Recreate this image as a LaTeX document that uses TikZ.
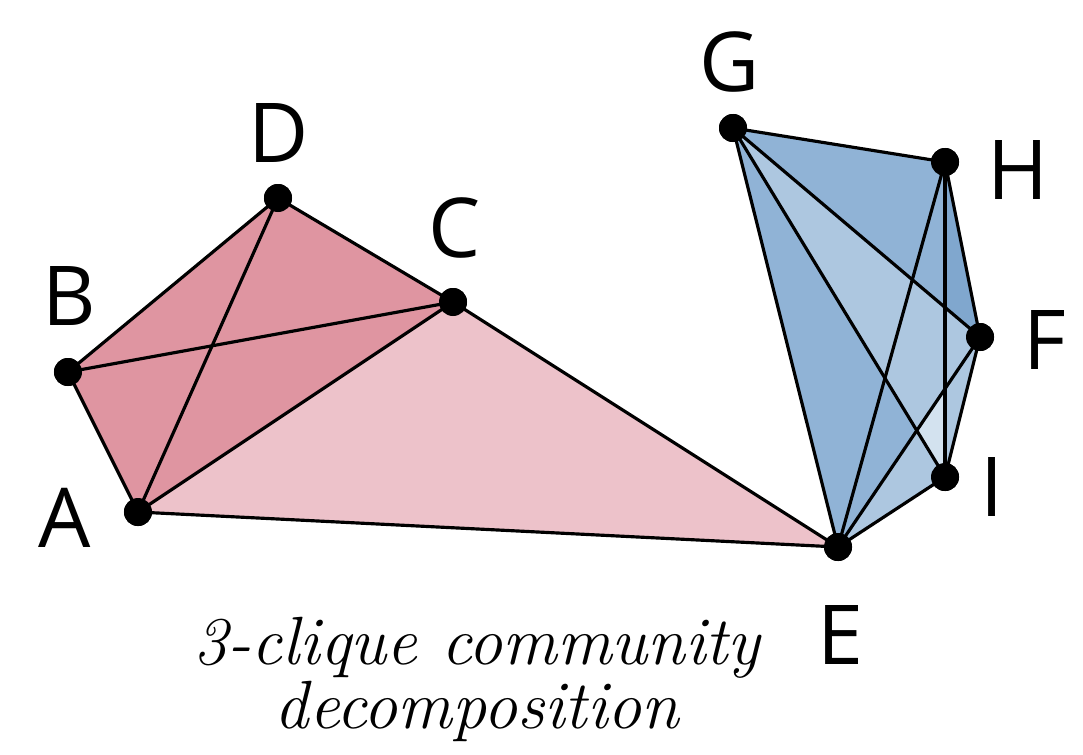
\documentclass[tikz,border=0pt]{standalone}
\usepackage{fontspec}
\newfontfamily\labelfont{Open Sans}
\definecolor{pinkdark}{HTML}{DF95A1}
\definecolor{pinklight}{HTML}{EDC2CA}
\definecolor{bluemid}{HTML}{90B3D6}
\definecolor{bluelight}{HTML}{ADC7E0}
\definecolor{bluepale}{HTML}{D3E2EF}
\definecolor{bluedeep}{HTML}{80A7CE}
\tikzset{
  vertex/.style={circle,fill=black,inner sep=0pt,minimum size=0.28cm},
  vlabel/.style={font=\labelfont\fontsize{23.5}{26}\selectfont,inner sep=0pt},
  edge/.style={line width=0.9pt,black}
}
\begin{document}
\begin{tikzpicture}[x=0.01cm,y=-0.01cm]
    \useasboundingbox (0,0) rectangle (1083,754);
    % vertices
    \node[vertex] (A) at (138,512) {};
    \node[vertex] (B) at (68,372) {};
    \node[vertex] (D) at (278,198) {};
    \node[vertex] (C) at (453,302) {};
    \node[vertex] (E) at (838,547) {};
    \node[vertex] (G) at (733,128) {};
    \node[vertex] (H) at (945,162) {};
    \node[vertex] (F) at (980,337) {};
    \node[vertex] (I) at (945,477) {};
    % communities
    \fill[pinklight] (A.center) -- (C.center) -- (E.center) -- cycle;
    \fill[pinkdark] (A.center) -- (B.center) -- (D.center) -- (C.center) -- cycle;
    \fill[bluemid] (G.center) -- (H.center) -- (F.center) -- (I.center) -- (E.center) -- cycle;
    \fill[bluedeep] (H.center) -- (F.center) -- (945,307) -- cycle;
    \fill[bluelight] (G.center) -- (F.center) -- (I.center) -- cycle;
    \fill[bluelight] (E.center) -- (F.center) -- (I.center) -- cycle;
    \fill[bluepale] (I.center) -- (916.7,430.5) -- (945,389) -- cycle;
    % edges
    \foreach \u/\v in {A/B,B/D,D/C,A/C,B/C,A/D,C/E,A/E,
                       G/H,G/F,G/I,G/E,H/F,H/I,H/E,F/I,F/E,I/E}
      \draw[edge] (\u.center) -- (\v.center);
    \foreach \n in {A,B,C,D,E,F,G,H,I}
      \fill (\n) circle (0.14cm);
    % labels
    \node[vlabel] (lA) at (65,518) {A};
    \node[vlabel] (lB) at (69,296) {B};
    \node[vlabel] (lD) at (279,133) {D};
    \node[vlabel] (lC) at (455,228) {C};
    \node[vlabel] (lG) at (730,62) {G};
    \node[vlabel] (lH) at (1018,170) {H};
    \node[vlabel] (lF) at (1045,340) {F};
    \node[vlabel] (lI) at (992,487) {I};
    \node[vlabel] (lE) at (840,635) {E};
    \node[font=\itshape\fontsize{19.4}{18}\selectfont,align=center,anchor=base]
      (caption) at (477,728) {3-clique community\\decomposition};
  \end{tikzpicture}
\end{document}
